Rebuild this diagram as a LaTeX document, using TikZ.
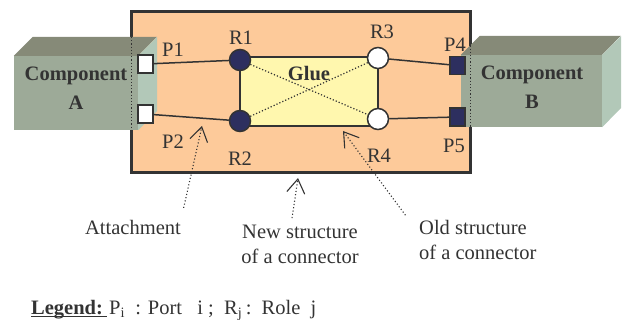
\documentclass[tikz,border=0pt]{standalone}
\usepackage{fontspec}
\setmainfont{Liberation Serif}
\usetikzlibrary{positioning,arrows.meta}
\definecolor{peach}{HTML}{FDCA9A}
\definecolor{gluefill}{HTML}{FFF7AE}
\definecolor{navyrole}{HTML}{2D2F5F}
\definecolor{darkline}{HTML}{333333}
\definecolor{compfront}{HTML}{9DAA98}
\definecolor{comptop}{HTML}{868A78}
\definecolor{compside}{HTML}{B2C8B8}

\begin{document}
\begin{tikzpicture}[x=1pt, y=-1pt]
\tikzstyle{every node}=[font=\fontsize{20.5}{25}\selectfont, text=darkline, inner sep=0pt]
\tikzstyle{role}=[circle, draw=darkline, line width=1.5pt, minimum size=21pt]
\tikzstyle{port}=[rectangle, draw=darkline, line width=1.5pt, minimum width=15pt, minimum height=18pt]
\tikzstyle{face}=[rectangle, fill=compfront]
\tikzstyle{wire}=[draw=darkline, line width=1.5pt]
\tikzstyle{seethrough}=[draw=darkline, line width=1.2pt, dash pattern=on 1.2pt off 2pt]
\tikzstyle{pointer}=[draw=darkline, line width=1.1pt, dash pattern=on 1.1pt off 2.2pt, -{Straight Barb[length=14pt, width=18pt]}]
\tikzstyle{bold}=[font=\fontsize{20.5}{29}\selectfont\bfseries]
\useasboundingbox (0,0) rectangle (626,320);

% connector frame
\draw[fill=peach, draw=darkline, line width=3.5pt] (131.5,11.5) rectangle (470.5,172.5);

% components
\node[face, minimum width=124pt, minimum height=74pt](compA) at (76,93) {};
\fill[comptop] (compA.north west) -- ++(19,-19) -- ++(124,0) -- (compA.north east) -- cycle;
\fill[compside] (compA.north east) -- ++(19,-19) -- ++(0,74) -- (compA.south east) -- cycle;
\node[bold, align=center](compAtxt) at (76,88.5) {Component\\A};
\draw[seethrough] (131.5,37) -- (131.5,130);

\node[face, minimum width=141pt, minimum height=72pt](compB) at (531.5,91) {};
\fill[comptop] (compB.north west) -- ++(19,-19) -- ++(141,0) -- (compB.north east) -- cycle;
\fill[compside] (compB.north east) -- ++(19,-19) -- ++(0,72) -- (compB.south east) -- cycle;
\node[bold, align=center](compBtxt) at (532,87.5) {Component\\B};
\draw[seethrough] (470.5,45.5) -- (470.5,127);

% glue
\node[draw=darkline, fill=gluefill, line width=2pt, minimum width=138pt, minimum height=69pt](glue) at (309,91.5) {};

% roles and ports
\node[role, fill=navyrole](r1) at (240,60) {};
\node[role, fill=navyrole](r2) at (240,121) {};
\node[role, fill=white](r3) at (378,58) {};
\node[role, fill=white](r4) at (378,119) {};
\node[port, fill=white](p1) at (145.5,64) {};
\node[port, fill=white](p2) at (145.5,114) {};
\node[port, fill=navyrole](p4) at (457.5,65.5) {};
\node[port, fill=navyrole](p5) at (457.5,117) {};

\path[seethrough] (r1) edge (r4) (r2) edge (r3);
\node[bold](gluetxt) at (309,74) {Glue};

\path[wire] (p1) edge (r1);
\path[wire] (p2) edge (r2);
\path[wire] (r3) edge (p4);
\path[wire] (r4) edge (p5);

% labels
\node(p1lbl) at (173,50) {P1};
\node(p2lbl) at (173,142) {P2};
\node(p4lbl) at (455,45) {P4};
\node(p5lbl) at (454,146) {P5};
\node(r1lbl) at (241,38) {R1};
\node(r2lbl) at (240,159) {R2};
\node(r3lbl) at (382,32) {R3};
\node(r4lbl) at (379,156) {R4};

% notes
\node(attach) at (133,227) {Attachment};
\node[align=center, anchor=north](newstr) at (300,225) {New structure\\of a connector};
\node[align=left, anchor=north west](oldstr) at (419,220) {Old structure\\of a connector};
\coordinate (attachtip) at (202,126);
\coordinate (newtip) at (298,178);
\coordinate (oldtip) at (343,131);
\draw[pointer, shorten <=12pt] (attach.north east) -- (attachtip);
\draw[pointer, shorten <=7pt] ([xshift=-9pt]newstr.north) -- (newtip);
\draw[pointer, shorten <=6pt] ([xshift=-10pt]oldstr.north west) -- (oldtip);

% legend
\node[anchor=base west, font=\fontsize{20.5}{25}\selectfont\bfseries](legendkey) at (31,314) {Legend:};
\draw[darkline, line width=1.8pt] ([yshift=-2.5pt]legendkey.base west) -- ++(76,0);
\node[anchor=base west](legendtxt) at (109,314) {P\textsubscript{i}\ \ : Port\ \ \ i ;\ \ R\textsubscript{j}\,:\ \ Role\ \ j};
\end{tikzpicture}
\end{document}
